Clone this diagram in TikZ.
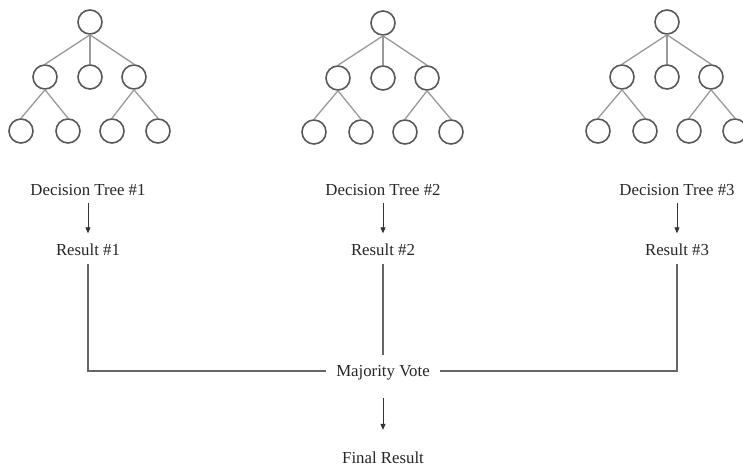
\documentclass[tikz,border=0pt]{standalone}
\usepackage{fontspec}
\setmainfont{Liberation Serif}
\usetikzlibrary{arrows.meta}
\begin{document}
\begin{tikzpicture}[x=1pt,y=-1pt,
  tnode/.style={circle,draw=black!65,line width=1.6pt,minimum size=24pt,inner sep=0pt},
  tedge/.style={draw=black!40,line width=1.3pt},
  lbl/.style={font=\fontsize{16.8}{20}\selectfont, text=black!85, inner sep=0pt, text height=11pt, text depth=0pt},
  arr/.style={-{Triangle[length=6pt,width=5pt]}, line width=0.8pt, draw=black!80},
  conn/.style={draw=black!60, line width=1.3pt}]
\useasboundingbox (0,0) rectangle (743,466);
\foreach \i/\x/\y in {1/90/22, 2/383/23, 3/667/22} {
  \node[tnode] (t\i-r) at (\x,\y) {};
  \node[tnode] (t\i-a) at (\x-45,\y+55) {};
  \node[tnode] (t\i-b) at (\x,\y+55) {};
  \node[tnode] (t\i-c) at (\x+44,\y+55) {};
  \node[tnode] (t\i-a1) at (\x-69,\y+109) {};
  \node[tnode] (t\i-a2) at (\x-22,\y+109) {};
  \node[tnode] (t\i-c1) at (\x+22,\y+109) {};
  \node[tnode] (t\i-c2) at (\x+68,\y+109) {};
  \draw[tedge] (t\i-r.south) -- (t\i-a.north);
  \draw[tedge] (t\i-r.south) -- (t\i-b.north);
  \draw[tedge] (t\i-r.south) -- (t\i-c.north);
  \draw[tedge] (t\i-a.south) -- (t\i-a1.north);
  \draw[tedge] (t\i-a.south) -- (t\i-a2.north);
  \draw[tedge] (t\i-c.south) -- (t\i-c1.north);
  \draw[tedge] (t\i-c.south) -- (t\i-c2.north);
}
\node[lbl] (dt1) at (88,190) {Decision Tree \#1};
\node[lbl] (dt2) at (383,190) {Decision Tree \#2};
\node[lbl] (dt3) at (677,190) {Decision Tree \#3};
\node[lbl] (res1) at (88,250) {Result \#1};
\node[lbl] (res2) at (383,250) {Result \#2};
\node[lbl] (res3) at (677,250) {Result \#3};
\node[lbl, inner sep=10pt] (mv) at (383,371) {Majority Vote};
\node[lbl] (fin) at (383,458) {Final Result};
\foreach \k in {1,2,3} {
  \draw[arr, shorten <=7.5pt, shorten >=11pt] (dt\k.south) -- (res\k.north);
}
\draw[conn, shorten <=8.5pt] (res1.south) |- (mv.west);
\draw[conn, shorten <=8.5pt] (res2.south) -- (mv.north);
\draw[conn, shorten <=8.5pt] (res3.south) |- (mv.east);
\draw[arr, shorten <=11.5pt, shorten >=22.5pt] (mv.south) -- (fin.north);
\end{tikzpicture}
\end{document}
